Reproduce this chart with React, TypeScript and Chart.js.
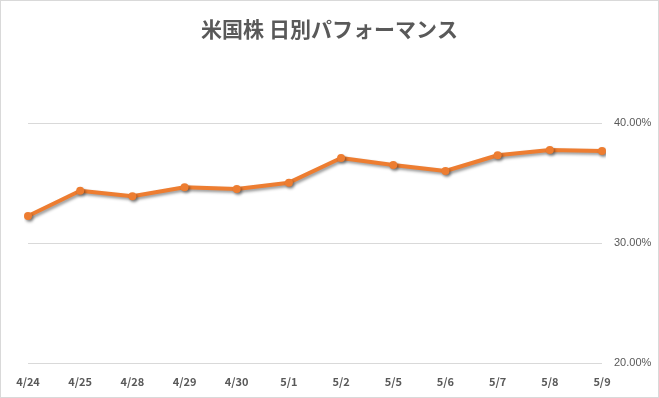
import React, { useEffect, useRef } from "react";
import { Chart, registerables } from "chart.js";

Chart.register(...registerables);

const TITLE = "米国株 日別パフォーマンス";
const categories = ["4/24", "4/25", "4/28", "4/29", "4/30", "5/1", "5/2", "5/5", "5/6", "5/7", "5/8", "5/9"];
const performance = [32.25, 34.36, 33.89, 34.64, 34.5, 35.03, 37.08, 36.5, 36.0, 37.31, 37.75, 37.67];
const yMin = 20;
const yMax = 40;
const yStep = 10;

const GRAY = "#595959";
const ORANGE = "#ED7D31";

const shadowPlugin = {
  id: "lineShadow",
  beforeDatasetDraw(chart: any) {
    const ctx = chart.ctx;
    ctx.save();
    ctx.shadowColor = "rgba(0,0,0,0.4)";
    ctx.shadowBlur = 3;
    ctx.shadowOffsetX = 1.5;
    ctx.shadowOffsetY = 2;
  },
  afterDatasetDraw(chart: any) {
    chart.ctx.restore();
  },
};

export default function App() {
  const ref = useRef<HTMLCanvasElement | null>(null);

  useEffect(() => {
    if (!ref.current) return;
    const chart = new Chart(ref.current, {
      type: "line",
      data: {
        labels: categories,
        datasets: [
          {
            data: performance,
            yAxisID: "y",
            borderColor: ORANGE,
            backgroundColor: ORANGE,
            borderWidth: 4,
            pointRadius: 4,
            pointBorderWidth: 0,
            pointBackgroundColor: ORANGE,
            tension: 0,
            borderJoinStyle: "round",
            borderCapStyle: "round",
          },
        ],
      },
      options: {
        animation: false,
        responsive: false,
        layout: { padding: 0 },
        plugins: {
          legend: { display: false },
          tooltip: { enabled: false },
          title: {
            display: true,
            text: TITLE,
            color: GRAY,
            font: { family: "'Noto Sans CJK JP', sans-serif", size: 21, weight: "bold" },
            padding: { top: 15.4, bottom: 81.4 },
          },
        },
        scales: {
          x: {
            offset: false,
            grid: { display: false, drawTicks: false },
            border: { display: false },
            ticks: {
              color: GRAY,
              padding: 12,
              maxRotation: 0,
              autoSkip: false,
              font: { family: "'Noto Sans CJK JP', sans-serif", size: 11, weight: "bold" },
            },
            afterFit(scale: any) {
              scale.height = 34;
            },
          },
          spacer: {
            type: "linear",
            position: "left",
            display: true,
            grid: { display: false, drawTicks: false },
            border: { display: false },
            ticks: { display: false },
            afterFit(scale: any) {
              scale.width = 27;
            },
          },
          y: {
            position: "right",
            min: yMin,
            max: yMax,
            grid: { color: "#d9d9d9", lineWidth: 1, drawTicks: false },
            border: { display: false },
            ticks: {
              stepSize: yStep,
              color: GRAY,
              padding: 12,
              font: { family: "'Liberation Sans', sans-serif", size: 11 },
              callback: (v: any) => Number(v).toFixed(2) + "%",
            },
            afterFit(scale: any) {
              scale.width = 56;
            },
          },
        },
      },
      plugins: [shadowPlugin],
    } as any);
    return () => chart.destroy();
  }, []);

  return (
    <div
      style={{
        position: "absolute",
        left: 0,
        top: 0,
        width: 659,
        height: 398,
        boxSizing: "border-box",
        border: "1px solid #d9d9d9",
        background: "#fff",
      }}
    >
      <canvas ref={ref} width={657} height={396} style={{ display: "block", width: 657, height: 396 }} />
    </div>
  );
}
